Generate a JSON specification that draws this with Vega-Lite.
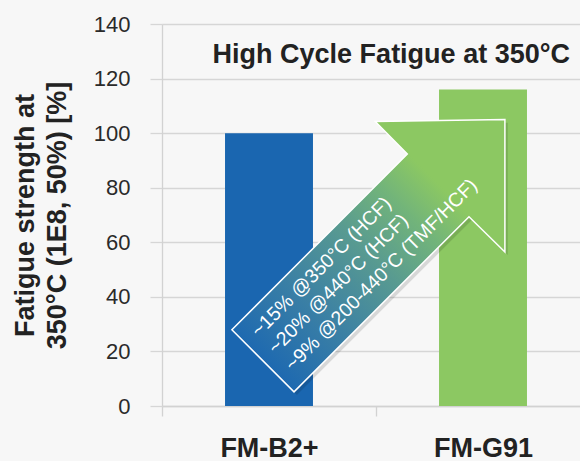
{
  "$schema": "https://vega.github.io/schema/vega-lite/v6.json",
  "width": 418,
  "height": 382,
  "autosize": "none",
  "padding": {"left": 162, "top": 24, "right": 0, "bottom": 55},
  "background": "#f7f7f7",
  "config": {"view": {"stroke": null}, "font": "Liberation Sans"},
  "layer": [
    {
      "data": {"values": [
        {"material": "FM-B2+", "value": 100},
        {"material": "FM-G91", "value": 116}
      ]},
      "mark": {"type": "bar", "width": {"band": 0.411}},
      "encoding": {
        "x": {
          "field": "material", "type": "nominal", "sort": null,
          "scale": {"range": [0, 428], "paddingInner": 0, "paddingOuter": 0},
          "axis": {
            "title": null, "labelAngle": 0, "tickBand": "extent",
            "tickSize": 10, "tickColor": "#d2d2d2", "tickWidth": 1.3,
            "domainColor": "#d2d2d2", "domainWidth": 1.3,
            "labelFont": "Liberation Sans", "labelFontSize": 27, "labelFontWeight": "bold",
            "labelColor": "#222222", "labelPadding": 19
          }
        },
        "y": {
          "field": "value", "type": "quantitative",
          "scale": {"domain": [0, 140], "nice": false},
          "axis": {
            "title": ["Fatigue strength at", "350°C (1E8, 50%) [%]"],
            "values": [0, 20, 40, 60, 80, 100, 120, 140],
            "grid": true, "gridColor": "#d6d6d6", "gridWidth": 1.3,
            "domainColor": "#d2d2d2", "domainWidth": 1.3,
            "tickColor": "#d6d6d6", "tickSize": 12, "tickWidth": 1.3,
            "labelFont": "Liberation Sans", "labelFontSize": 22, "labelColor": "#2a2a2a", "labelPadding": 20,
            "titleFont": "Liberation Sans", "titleFontSize": 27, "titleFontWeight": "bold", "titleColor": "#222222",
            "titleLineHeight": 32, "titlePadding": 22
          }
        },
        "color": {
          "field": "material", "type": "nominal", "sort": null,
          "scale": {"range": ["#1a66b0", "#8cc862"]},
          "legend": null
        }
      }
    },
    {
      "encoding": {
        "x": {"field": "xq", "type": "quantitative", "scale": {"domain": [0, 2], "range": [0, 428], "nice": false, "zero": false}, "axis": null},
        "y": {"field": "yq", "type": "quantitative", "scale": {"domain": [0, 140], "nice": false}, "axis": null}
      },
      "layer": [
        {
          "data": {"values": [{"xq": 0.978, "yq": 53.8}]},
          "mark": {
            "type": "point", "filled": true, "size": 74529,
            "shape": "M-1,0.54L-0.545,0.995L0.737,-0.288L1,-0.03L1,-1L0.05,-0.985L0.285,-0.747Z",
            "fill": "#000000", "fillOpacity": 0.13, "strokeWidth": 0
          }
        },
        {
          "data": {"values": [{"xq": 0.9645, "yq": 54.97}]},
          "mark": {
            "type": "point", "filled": true, "size": 74529, "opacity": 1,
            "shape": "M-1,0.54L-0.545,0.995L0.737,-0.288L1,-0.03L1,-1L0.05,-0.985L0.285,-0.747Z",
            "fill": {
              "gradient": "linear", "x1": 0, "y1": 1, "x2": 1, "y2": 0,
              "stops": [
                {"offset": 0.12, "color": "#1f6ab0"},
                {"offset": 0.3, "color": "#3a7fa5"},
                {"offset": 0.5, "color": "#589a91"},
                {"offset": 0.65, "color": "#72b47a"},
                {"offset": 0.76, "color": "#8cc862"}
              ]
            },
            "fillOpacity": 1,
            "stroke": "#ffffff", "strokeWidth": 1.5, "strokeOpacity": 1
          }
        },
        {
          "data": {"values": [{"xq": 0.4533, "yq": 24.92}]},
          "mark": {
            "type": "text", "angle": -45, "align": "left", "baseline": "alphabetic",
            "text": ["~15% @350°C (HCF)", "~20% @440°C (HCF)", "~9% @200-440°C (TMF/HCF)"],
            "lineHeight": 24, "font": "Liberation Sans", "fontSize": 19.5, "color": "#ffffff"
          }
        },
        {
          "data": {"values": [{"label": "High Cycle Fatigue at 350°C", "xq": 1.9065, "yq": 125.6}]},
          "mark": {
            "type": "text", "align": "right", "baseline": "alphabetic",
            "font": "Liberation Sans", "fontSize": 27, "fontWeight": "bold", "color": "#222222"
          },
          "encoding": {"text": {"field": "label", "type": "nominal"}}
        }
      ]
    }
  ],
  "resolve": {"scale": {"x": "independent", "y": "independent"}, "axis": {"x": "independent", "y": "independent"}}
}
